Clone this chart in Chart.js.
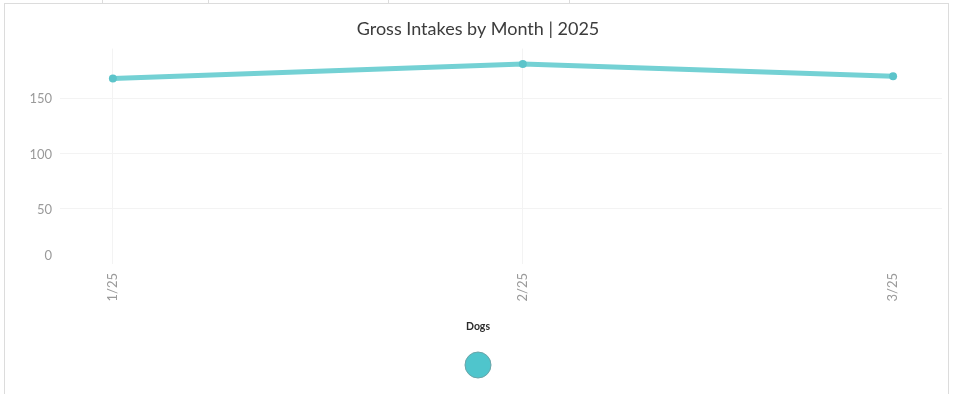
<!DOCTYPE html>
<html>
<head>
<meta charset="utf-8">
<script src="https://cdn.jsdelivr.net/npm/chart.js@4/dist/chart.umd.min.js"></script>
<style>
  html, body { margin: 0; padding: 0; background: #fff; }
  #wrap { position: relative; width: 953px; height: 394px; overflow: hidden; }
  #c { position: absolute; left: 0; top: 0; }
  .ln { position: absolute; background: #dcdcdc; pointer-events: none; }
</style>
</head>
<body>
<div id="wrap">
  <canvas id="c" width="953" height="394"></canvas>
  <div class="ln" style="left:4px;top:3px;width:1px;height:391px;"></div>
  <div class="ln" style="left:4px;top:3px;width:945px;height:1px;"></div>
  <div class="ln" style="left:948px;top:3px;width:1px;height:391px;"></div>
  <div class="ln" style="left:102px;top:0;width:1px;height:3px;"></div>
  <div class="ln" style="left:208px;top:0;width:1px;height:3px;"></div>
  <div class="ln" style="left:388px;top:0;width:1px;height:3px;"></div>
  <div class="ln" style="left:569px;top:0;width:1px;height:3px;"></div>
</div>
<script>
// ---- data ----
const chartTitle = "Gross Intakes by Month | 2025";
const seriesName = "Dogs";
const monthDates = ["2025-01-01", "2025-02-01", "2025-03-01"];
const monthLabels = ["1/25", "2/25", "3/25"];
const dogIntakes = [168, 181, 170];
const yTickValues = [0, 50, 100, 150];

const FONT = "Lato, 'Open Sans', sans-serif";
const DAY = 86400000;
const t0 = Date.parse(monthDates[0]);
const dayIdx = monthDates.map(d => Math.round((Date.parse(d) - t0) / DAY));
const points = dayIdx.map((x, i) => ({ x: x, y: dogIntakes[i] }));

const yLabelPlugin = {
  id: 'yLabels',
  afterDraw(chart) {
    const ctx = chart.ctx, y = chart.scales.y, area = chart.chartArea;
    ctx.save();
    ctx.font = "13px " + FONT;
    ctx.fillStyle = "#9a9a9a";
    ctx.textAlign = "right";
    ctx.textBaseline = "middle";
    yTickValues.forEach(v => {
      const py = Math.min(y.getPixelForValue(v), area.bottom - 9);
      ctx.fillText(String(v), 52, py + 1);
    });
    ctx.restore();
  }
};

const legendPlugin = {
  id: 'customLegend',
  afterDraw(chart) {
    const ctx = chart.ctx;
    ctx.save();
    ctx.font = "bold 10.5px " + FONT;
    ctx.fillStyle = "#2b2b2b";
    ctx.textAlign = "center";
    ctx.textBaseline = "middle";
    ctx.fillText(chart.data.datasets[0].label, 478, 327);
    ctx.beginPath();
    ctx.arc(478, 365, 13, 0, Math.PI * 2);
    ctx.fillStyle = "#4fc5cc";
    ctx.fill();
    ctx.lineWidth = 1;
    ctx.strokeStyle = "#6aa4a8";
    ctx.stroke();
    ctx.restore();
  }
};

new Chart(document.getElementById('c'), {
  type: 'line',
  data: {
    datasets: [{
      label: seriesName,
      data: points,
      borderColor: "#74d1d4",
      backgroundColor: "#5cc4ca",
      pointBackgroundColor: "#5cc4ca",
      pointBorderWidth: 0,
      borderWidth: 5,
      pointRadius: 4,
      tension: 0,
      fill: false
    }]
  },
  options: {
    responsive: false,
    animation: false,
    layout: { padding: { left: 14, right: 11, top: 0, bottom: 0 } },
    plugins: {
      legend: { display: false },
      tooltip: { enabled: false },
      title: {
        display: true,
        text: chartTitle,
        color: "#3c3c3c",
        font: { family: FONT, size: 18, weight: 'normal' },
        padding: { top: 18, bottom: 9 }
      }
    },
    scales: {
      x: {
        type: 'linear',
        min: -4,
        max: 62.7,
        afterBuildTicks: s => { s.ticks = dayIdx.map(v => ({ value: v })); },
        afterFit: s => { s.height = 130; },
        ticks: {
          autoSkip: false,
          minRotation: 90,
          maxRotation: 90,
          padding: 9,
          color: "#9a9a9a",
          font: { family: FONT, size: 13 },
          callback: (v) => { const i = dayIdx.indexOf(v); return i >= 0 ? monthLabels[i] : ''; }
        },
        grid: {
          drawTicks: false,
          color: (c) => (c.tick && c.index < 2) ? "#f3f3f3" : "rgba(0,0,0,0)"
        },
        border: { display: false }
      },
      y: {
        min: 0,
        max: 195,
        afterBuildTicks: s => { s.ticks = yTickValues.map(v => ({ value: v })); },
        afterFit: s => { s.width = 46; },
        ticks: { display: false },
        grid: {
          drawTicks: false,
          color: (c) => (c.tick && c.tick.value > 0) ? "#f3f3f3" : "rgba(0,0,0,0)"
        },
        border: { display: false }
      }
    }
  },
  plugins: [yLabelPlugin, legendPlugin]
});
</script>
</body>
</html>
